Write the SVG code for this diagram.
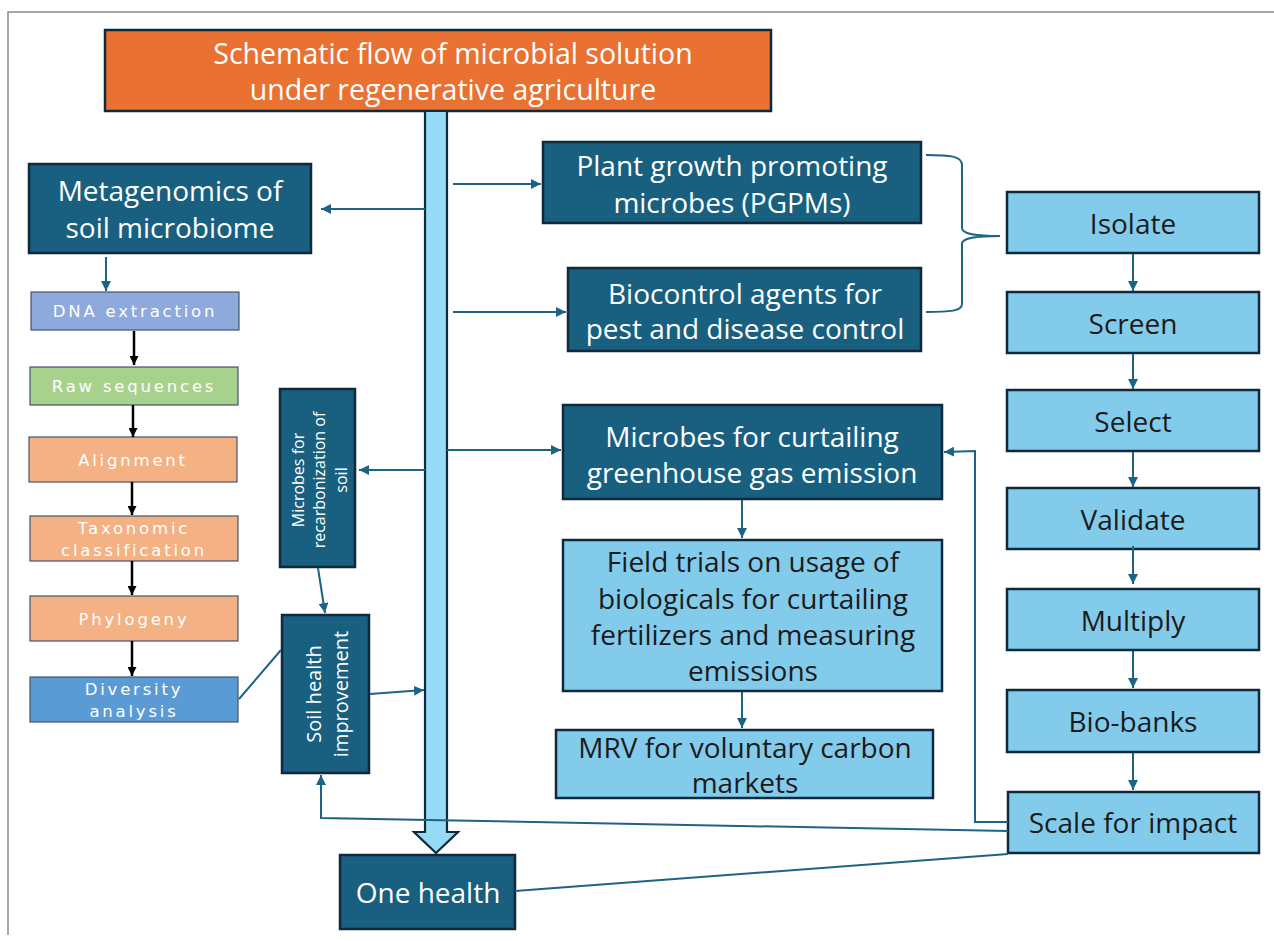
<svg xmlns="http://www.w3.org/2000/svg" width="1274" height="941" viewBox="0 0 1274 941">
<style>
.dk{fill:#185F80;stroke:#0E2A3C;stroke-width:2.5}
.lb{fill:#83CBEB;stroke:#0E2A3C;stroke-width:2.5}
.tw{font-family:"Open Sans","Liberation Sans",sans-serif;fill:#fff;text-anchor:middle;dominant-baseline:central}
.td{font-family:"Open Sans","Liberation Sans",sans-serif;fill:#1b1b1b;text-anchor:middle;dominant-baseline:central}
.sm{font-family:"DejaVu Sans",sans-serif;fill:#fff;font-size:16.5px;letter-spacing:2.8px;text-anchor:middle;dominant-baseline:central}
.sb{stroke:#44546A;stroke-width:1.2}
.c{stroke:#1C6485;stroke-width:2;fill:none}
.k{stroke:#000;stroke-width:2.5;fill:none}
</style>
<defs>
<marker id="ah" viewBox="0 0 10 10" refX="10" refY="5" markerWidth="10" markerHeight="10" markerUnits="userSpaceOnUse" orient="auto"><path d="M0,0 L10,5 L0,10 z" fill="#1C6485"/></marker>
<marker id="ak" viewBox="0 0 10 10" refX="10" refY="5" markerWidth="9" markerHeight="9" markerUnits="userSpaceOnUse" orient="auto"><path d="M0,0 L10,5 L0,10 z" fill="#000"/></marker>
</defs>
<rect width="1274" height="941" fill="#fff"/>
<path d="M8,935 V12 H1274" fill="none" stroke="#8a8a8a" stroke-width="1.5"/>

<g id="title">
<rect x="105" y="30" width="666" height="81" fill="#E97132" stroke="#0E2A3C" stroke-width="2.5"/>
<text class="tw" x="453" y="53" font-size="28.5">Schematic flow of microbial solution</text>
<text class="tw" x="453" y="89" font-size="28.5">under regenerative agriculture</text>
</g>

<g id="mainflow">
<polygon points="425,111 447,111 447,832 458,832 436,853 414,832 425,832" fill="#97DAF6" stroke="#0E2A3C" stroke-width="2.2"/>
</g>

<g id="metagenomics">
<rect class="dk" x="29" y="164" width="282" height="89"/>
<text class="tw" x="170" y="190" font-size="28">Metagenomics of</text>
<text class="tw" x="170" y="227" font-size="28">soil microbiome</text>
</g>

<g id="dna"><rect class="sb" x="31" y="292" width="208" height="38" fill="#8EA9DB"/><text class="sm" x="135" y="311">DNA extraction</text></g>
<g id="raw"><rect class="sb" x="30" y="367" width="208" height="38" fill="#A9D18E"/><text class="sm" x="134" y="386">Raw sequences</text></g>
<g id="alignment"><rect class="sb" x="29" y="437" width="208" height="45" fill="#F4B183"/><text class="sm" x="133" y="460">Alignment</text></g>
<g id="taxonomic"><rect class="sb" x="30" y="516" width="208" height="45" fill="#F4B183"/><text class="sm" x="134" y="528">Taxonomic</text><text class="sm" x="134" y="550">classification</text></g>
<g id="phylogeny"><rect class="sb" x="30" y="596" width="208" height="45" fill="#F4B183"/><text class="sm" x="134" y="619">Phylogeny</text></g>
<g id="diversity"><rect class="sb" x="30" y="677" width="208" height="45" fill="#5B9BD5"/><text class="sm" x="134" y="689">Diversity</text><text class="sm" x="134" y="711">analysis</text></g>

<g id="recarbonization">
<rect class="dk" x="280" y="389" width="75" height="178"/>
<g transform="translate(318,480) rotate(-90)">
<text class="tw" x="0" y="-20" font-size="16">Microbes for</text>
<text class="tw" x="0" y="1" font-size="16">recarbonization of</text>
<text class="tw" x="0" y="23" font-size="16">soil</text>
</g>
</g>

<g id="soilhealth">
<rect class="dk" x="282" y="615" width="87" height="158"/>
<g transform="translate(326,694) rotate(-90)">
<text class="tw" x="0" y="-13" font-size="20">Soil health</text>
<text class="tw" x="0" y="14" font-size="20">improvement</text>
</g>
</g>

<g id="onehealth">
<rect class="dk" x="340" y="855" width="175" height="74"/>
<text class="tw" x="428" y="892" font-size="28">One health</text>
</g>

<g id="pgpm">
<rect class="dk" x="543" y="142" width="378" height="81"/>
<text class="tw" x="732" y="165" font-size="28">Plant growth promoting</text>
<text class="tw" x="732" y="202" font-size="28">microbes (PGPMs)</text>
</g>

<g id="biocontrol">
<rect class="dk" x="568" y="268" width="353" height="83"/>
<text class="tw" x="745" y="293" font-size="28">Biocontrol agents for</text>
<text class="tw" x="745" y="328" font-size="28">pest and disease control</text>
</g>

<g id="ghg">
<rect class="dk" x="563" y="405" width="379" height="94"/>
<text class="tw" x="752" y="436" font-size="28">Microbes for curtailing</text>
<text class="tw" x="752" y="472" font-size="28">greenhouse gas emission</text>
</g>

<g id="fieldtrials">
<rect class="lb" x="563" y="540" width="379" height="151"/>
<text class="td" x="753" y="561" font-size="28">Field trials on usage of</text>
<text class="td" x="753" y="598" font-size="28">biologicals for curtailing</text>
<text class="td" x="753" y="634" font-size="28">fertilizers and measuring</text>
<text class="td" x="753" y="670" font-size="28">emissions</text>
</g>

<g id="mrv">
<rect class="lb" x="556" y="730" width="377" height="68"/>
<text class="td" x="745" y="747" font-size="28">MRV for voluntary carbon</text>
<text class="td" x="745" y="782" font-size="28">markets</text>
</g>

<g id="isolate"><rect class="lb" x="1007" y="192" width="252" height="61"/><text class="td" x="1133" y="223" font-size="28">Isolate</text></g>
<g id="screen"><rect class="lb" x="1007" y="292" width="252" height="61"/><text class="td" x="1133" y="323" font-size="28">Screen</text></g>
<g id="select"><rect class="lb" x="1007" y="390" width="252" height="61"/><text class="td" x="1133" y="421" font-size="28">Select</text></g>
<g id="validate"><rect class="lb" x="1007" y="488" width="252" height="61"/><text class="td" x="1133" y="519" font-size="28">Validate</text></g>
<g id="multiply"><rect class="lb" x="1007" y="589" width="252" height="61"/><text class="td" x="1133" y="620" font-size="28">Multiply</text></g>
<g id="biobanks"><rect class="lb" x="1007" y="690" width="252" height="62"/><text class="td" x="1133" y="721" font-size="28">Bio-banks</text></g>
<g id="scale"><rect class="lb" x="1008" y="792" width="251" height="61"/><text class="td" x="1133" y="822" font-size="28">Scale for impact</text></g>

<g id="connectors">
<line class="c" x1="425" y1="209" x2="321" y2="209" marker-end="url(#ah)"/>
<line class="c" x1="106" y1="257" x2="106" y2="291" marker-end="url(#ah)"/>
<line class="k" x1="134" y1="331" x2="134" y2="365" marker-end="url(#ak)"/>
<line class="k" x1="133" y1="405" x2="133" y2="437" marker-end="url(#ak)"/>
<line class="k" x1="132" y1="482" x2="132" y2="515" marker-end="url(#ak)"/>
<line class="k" x1="132" y1="561" x2="132" y2="595" marker-end="url(#ak)"/>
<line class="k" x1="132" y1="641" x2="132" y2="676" marker-end="url(#ak)"/>
<line class="c" x1="425" y1="470" x2="359" y2="470" marker-end="url(#ah)"/>
<line class="c" x1="318" y1="568" x2="325" y2="613" marker-end="url(#ah)"/>
<line class="c" x1="239" y1="699" x2="281" y2="650"/>
<line class="c" x1="370" y1="694" x2="424" y2="690" marker-end="url(#ah)"/>
<polyline class="c" points="1008,831 321,818 321,775" marker-end="url(#ah)"/>
<line class="c" x1="515" y1="891" x2="1008" y2="854"/>
<line class="c" x1="453" y1="184" x2="541" y2="184" marker-end="url(#ah)"/>
<line class="c" x1="453" y1="312" x2="566" y2="312" marker-end="url(#ah)"/>
<line class="c" x1="447" y1="450" x2="561" y2="450" marker-end="url(#ah)"/>
<line class="c" x1="742" y1="500" x2="742" y2="538" marker-end="url(#ah)"/>
<line class="c" x1="742" y1="692" x2="742" y2="728" marker-end="url(#ah)"/>
<path class="c" d="M926,155 C950,155 962,156 962,165 L962,228 C962,234 975,236 1000,236 C975,236 962,238 962,244 L962,304 C962,311 950,312 926,312"/>
<line class="c" x1="1133" y1="254" x2="1133" y2="291" marker-end="url(#ah)"/>
<line class="c" x1="1133" y1="354" x2="1133" y2="389" marker-end="url(#ah)"/>
<line class="c" x1="1133" y1="452" x2="1133" y2="487" marker-end="url(#ah)"/>
<line class="c" x1="1133" y1="546" x2="1133" y2="584" marker-end="url(#ah)"/>
<line class="c" x1="1133" y1="651" x2="1133" y2="688" marker-end="url(#ah)"/>
<line class="c" x1="1133" y1="753" x2="1133" y2="790" marker-end="url(#ah)"/>
<polyline class="c" points="1008,822 975,822 975,451 944,452" marker-end="url(#ah)"/>
</g>
</svg>
